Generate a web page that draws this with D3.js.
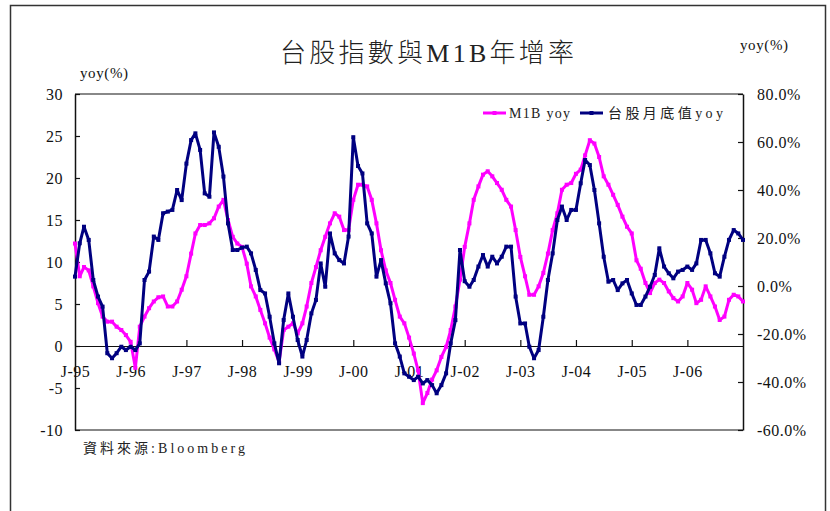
<!DOCTYPE html>
<html>
<head>
<meta charset="utf-8">
<script src="https://cdn.jsdelivr.net/npm/d3@7"></script>
<style>
  body { margin: 0; background: #fff; }
</style>
</head>
<body>
<div class="chart"></div>
<script>
// monthly series, Jan-95 .. Jan-07
const startMonth = new Date(1995, 0, 1);

// M1B yoy (left axis, %)
const m1b = [
  12.2, 8.3, 9.4, 9.0, 7.1, 5.1, 3.5, 2.9, 2.9, 2.3, 1.9, 1.3,
  0.5, -2.6, 2.3, 3.5, 4.5, 5.3, 5.8, 5.9, 4.7, 4.7, 5.3, 6.7,
  8.3, 11.0, 13.4, 14.4, 14.4, 14.6, 15.2, 16.6, 17.4, 15.0, 13.0, 12.2,
  11.8, 9.8, 7.1, 5.9, 4.3, 2.7, 1.0, -0.4, -1.9, 1.9, 2.3, 2.7,
  1.5, 2.7, 4.7, 7.5, 9.4, 11.4, 13.0, 14.6, 15.8, 15.4, 13.8, 13.8,
  17.4, 19.2, 19.2, 19.0, 17.4, 14.6, 11.4, 9.0, 7.5, 5.5, 3.5, 2.7,
  1.0, -0.9, -2.9, -6.8, -5.6, -4.0, -2.9, -1.3, -0.1, 1.9, 4.7, 7.9,
  11.8, 14.6, 17.4, 19.0, 20.4, 20.8, 20.2, 19.4, 18.6, 17.4, 16.6, 13.8,
  10.6, 8.3, 6.1, 6.1, 7.1, 8.7, 11.0, 13.8, 15.8, 18.6, 19.2, 19.4,
  20.5, 21.0, 22.7, 24.5, 24.1, 22.5, 20.2, 19.2, 18.0, 16.8, 15.4, 14.2,
  13.4, 10.2, 9.2, 7.5, 6.3, 7.5, 7.9, 7.5, 6.5, 5.7, 5.3, 5.9,
  7.5, 6.7, 5.1, 5.5, 7.1, 5.9, 4.7, 3.1, 3.5, 5.5, 6.1, 5.9,
  5.3
];

// 台股月底值 yoy (right axis, %)
const stock = [
  3.9, 17.8, 24.7, 19.2, 2.5, -4.4, -8.6, -28.0, -30.1, -28.0, -25.3, -26.7,
  -25.3, -26.7, -23.9, 2.5, 6.0, 20.6, 19.2, 30.3, 31.0, 31.7, 40.0, 35.8,
  51.0, 60.8, 63.6, 56.7, 38.6, 37.2, 64.0, 58.0, 45.6, 26.1, 15.0, 15.0,
  16.0, 16.4, 13.6, 6.7, -1.7, -3.1, -12.8, -23.9, -32.2, -14.2, -3.1, -12.8,
  -22.5, -29.4, -22.5, -11.4, -5.8, 9.4, -0.3, 21.9, 13.6, 10.8, 9.4, 20.6,
  62.0, 50.0, 46.9, 26.1, 21.9, 3.9, 10.8, 1.1, -7.2, -23.9, -29.4, -36.4,
  -37.8, -39.2, -37.8, -40.6, -39.2, -41.3, -44.7, -41.3, -36.4, -23.9, -14.2, 15.0,
  2.0, -0.3, 2.5, 8.1, 12.9, 8.1, 12.2, 9.4, 12.2, 16.4, 16.4, -4.4,
  -15.6, -15.6, -25.3, -30.1, -26.7, -12.8, 2.5, 13.6, 27.5, 33.1, 27.5, 31.7,
  31.7, 42.8, 52.5, 50.4, 40.0, 26.1, 12.2, 1.8, 2.5, -1.7, 1.1, 2.5,
  -3.1, -7.9, -7.9, -4.4, -0.3, 4.6, 15.7, 8.1, 5.3, 3.2, 6.0, 6.7,
  8.1, 6.7, 9.4, 19.2, 19.2, 13.6, 5.3, 3.9, 12.2, 19.2, 23.3, 21.9,
  19.2
];

const xTickLabels = ["J-95","J-96","J-97","J-98","J-99","J-00","J-01","J-02","J-03","J-04","J-05","J-06"];
const leftTicks = [30, 25, 20, 15, 10, 5, 0, -5, -10];
const rightTicks = [80, 60, 40, 20, 0, -20, -40, -60];

const title = "台股指數與M1B年增率";
const seriesNames = ["M1B yoy", "台股月底值yoy"];
const source = "資料來源:Bloomberg";

const W = 830, H = 511;
const plot = {left: 75, right: 743, top: 94, bottom: 430};
const pink = "#ff00ff", navy = "#000080";
const serif = "'Liberation Serif', 'Noto Sans CJK TC', serif";

const svg = d3.select(".chart").append("svg")
    .attr("width", W)
    .attr("height", H)
    .style("font-family", serif);

// outer frame
svg.append("rect")
  .attr("x", 10.5).attr("y", 5.5)
  .attr("width", 815).attr("height", 530)
  .attr("fill", "none")
  .attr("stroke", "#333")
  .attr("stroke-width", 1.5);

const monthOf = i => d3.timeMonth.offset(startMonth, i);

const x = d3.scaleTime()
    .domain([startMonth, monthOf(144)])
    .range([plot.left, plot.right]);
const yL = d3.scaleLinear().domain([-10, 30]).range([plot.bottom, plot.top]);
const yR = d3.scaleLinear().domain([-60, 80]).range([plot.bottom, plot.top]);

// plot box top / bottom
svg.append("line")
  .attr("x1", plot.left).attr("x2", plot.right)
  .attr("y1", plot.top).attr("y2", plot.top)
  .attr("stroke", "#888").attr("stroke-width", 2);
svg.append("line")
  .attr("x1", plot.left).attr("x2", plot.right)
  .attr("y1", plot.bottom).attr("y2", plot.bottom)
  .attr("stroke", "#111").attr("stroke-width", 1.2);

function styleAxis(g) {
  g.attr("font-family", serif).attr("font-size", 16);
  g.select(".domain").attr("stroke", "#111").attr("stroke-width", 1.5);
  g.selectAll(".tick line").attr("stroke", "#111").attr("stroke-width", 1.2);
  g.selectAll(".tick text")
    .attr("fill", "#111")
    .style("font-family", serif)
    .style("font-size", "16px")
    .style("letter-spacing", "0.5px");
}

// left axis
svg.append("g")
  .attr("transform", `translate(${plot.left},0)`)
  .call(d3.axisLeft(yL).tickValues(leftTicks).tickFormat(d => d)
    .tickSizeInner(-5).tickSizeOuter(0).tickPadding(12))
  .call(styleAxis);

// right axis
svg.append("g")
  .attr("transform", `translate(${plot.right},0)`)
  .call(d3.axisRight(yR).tickValues(rightTicks).tickFormat(d => d.toFixed(1) + "%")
    .tickSizeInner(-5).tickSizeOuter(0).tickPadding(14))
  .call(styleAxis);

// x axis on the zero line
const yearDates = xTickLabels.map((d, i) => new Date(1995 + i, 0, 1));
svg.append("g")
  .attr("transform", `translate(0,${yL(0)})`)
  .call(d3.axisBottom(x).tickValues(yearDates).tickFormat((d, i) => xTickLabels[i])
    .tickSizeInner(-6).tickSizeOuter(0).tickPadding(20))
  .call(styleAxis)
  .call(g => g.select(".domain").attr("stroke-width", 1.2));

// series
const lineL = d3.line().x((d, i) => x(monthOf(i))).y(d => yL(d));
const lineR = d3.line().x((d, i) => x(monthOf(i))).y(d => yR(d));

function drawSeries(data, line, yScale, color) {
  svg.append("path")
    .datum(data)
    .attr("fill", "none")
    .attr("stroke", color)
    .attr("stroke-width", 3)
    .attr("stroke-linejoin", "round")
    .attr("d", line);
  svg.append("g").selectAll("rect")
    .data(data)
    .enter().append("rect")
    .attr("x", (d, i) => x(monthOf(i)) - 2)
    .attr("y", d => yScale(d) - 2)
    .attr("width", 4).attr("height", 4)
    .attr("fill", color);
}

drawSeries(m1b, lineL, yL, pink);
drawSeries(stock, lineR, yR, navy);

// legend
const legend = [
  {name: seriesNames[0], color: pink, x0: 483, tx: 509, tl: 61},
  {name: seriesNames[1], color: navy, x0: 580, tx: 608, tl: 115}
];
const lg = svg.append("g").selectAll("g").data(legend).enter().append("g");
lg.append("line")
  .attr("x1", d => d.x0).attr("x2", d => d.x0 + 23)
  .attr("y1", 113).attr("y2", 113)
  .attr("stroke", d => d.color).attr("stroke-width", 3);
lg.append("rect")
  .attr("x", d => d.x0 + 9.5).attr("y", 111)
  .attr("width", 4).attr("height", 4)
  .attr("fill", d => d.color);
lg.append("text")
  .attr("x", d => d.tx).attr("y", 118)
  .attr("textLength", d => d.tl)
  .attr("lengthAdjust", "spacing")
  .attr("fill", "#222")
  .style("font-size", "14px")
  .text(d => d.name);

// titles
svg.append("text")
  .attr("x", 280).attr("y", 62)
  .attr("textLength", 294)
  .attr("lengthAdjust", "spacing")
  .attr("fill", "#222")
  .style("font-size", "26px")
  .style("font-weight", 300)
  .text(title);

svg.append("text")
  .attr("x", 80).attr("y", 78)
  .attr("fill", "#111")
  .style("font-size", "15px")
  .style("letter-spacing", "0.6px")
  .text("yoy(%)");

svg.append("text")
  .attr("x", 740).attr("y", 50)
  .attr("fill", "#111")
  .style("font-size", "15px")
  .style("letter-spacing", "0.6px")
  .text("yoy(%)");

svg.append("text")
  .attr("x", 83).attr("y", 453)
  .attr("textLength", 162)
  .attr("lengthAdjust", "spacing")
  .attr("fill", "#222")
  .style("font-size", "14px")
  .text(source);
</script>
</body>
</html>
